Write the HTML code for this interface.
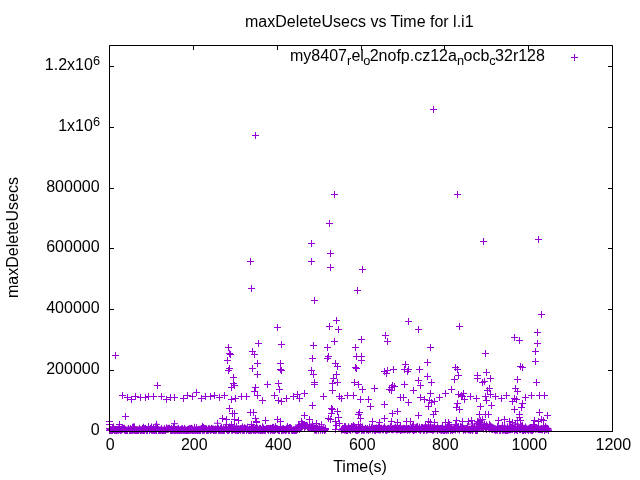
<!DOCTYPE html>
<html lang="en"><head><meta charset="utf-8"><title>maxDeleteUsecs vs Time for l.i1</title>
<style>html,body{margin:0;padding:0;background:#fff;overflow:hidden}svg{display:block;will-change:transform}text{font-family:"Liberation Sans",Arial,sans-serif;font-size:16px;fill:#000}</style></head><body>
<svg width="640" height="480" viewBox="0 0 640 480">
<rect width="640" height="480" fill="#fff"/>
<text x="359.3" y="26.6" text-anchor="middle">maxDeleteUsecs vs Time for l.i1</text>
<text transform="translate(18.2,237.5) rotate(-90)" text-anchor="middle">maxDeleteUsecs</text>
<text x="360" y="471.8" text-anchor="middle">Time(s)</text>
<text x="99.6" y="435.0" text-anchor="end">0</text>
<text x="99.6" y="374.0" text-anchor="end">200000</text>
<text x="99.6" y="313.0" text-anchor="end">400000</text>
<text x="99.6" y="252.0" text-anchor="end">600000</text>
<text x="99.6" y="192.0" text-anchor="end">800000</text>
<text x="100" y="130.8" text-anchor="end">1x10<tspan font-size="12.8" dy="-4.8">6</tspan></text>
<text x="100" y="70.0" text-anchor="end">1.2x10<tspan font-size="12.8" dy="-4.8">6</tspan></text>
<text x="110.3" y="450" text-anchor="middle">0</text>
<text x="194.3" y="450" text-anchor="middle">200</text>
<text x="278.3" y="450" text-anchor="middle">400</text>
<text x="362.3" y="450" text-anchor="middle">600</text>
<text x="445.3" y="450" text-anchor="middle">800</text>
<text x="529.3" y="450" text-anchor="middle">1000</text>
<text x="613.3" y="450" text-anchor="middle">1200</text>
<text y="60.8"><tspan x="290">my8407</tspan><tspan font-size="12.8" x="347" y="64.8">r</tspan><tspan x="351.4" y="60.8">el</tspan><tspan font-size="12.8" x="363.3" y="64.8">o</tspan><tspan x="369.7" y="60.8">2nofp.cz12a</tspan><tspan font-size="12.8" x="456.9" y="64.8">n</tspan><tspan x="463.5" y="60.8">ocb</tspan><tspan font-size="12.8" x="489.3" y="64.8">c</tspan><tspan x="495.1" y="60.8">32r128</tspan></text>
<path d="M109.5 431.50h4.5M612.5 431.50h-4.5M109.50 431.5v-4.5M109.50 45.5v4.5M109.5 370.50h4.5M612.5 370.50h-4.5M193.50 431.5v-4.5M193.50 45.5v4.5M109.5 309.50h4.5M612.5 309.50h-4.5M277.50 431.5v-4.5M277.50 45.5v4.5M109.5 248.50h4.5M612.5 248.50h-4.5M361.50 431.5v-4.5M361.50 45.5v4.5M109.5 188.50h4.5M612.5 188.50h-4.5M444.50 431.5v-4.5M444.50 45.5v4.5M109.5 127.50h4.5M612.5 127.50h-4.5M528.50 431.5v-4.5M528.50 45.5v4.5M109.5 66.50h4.5M612.5 66.50h-4.5M612.50 431.5v-4.5M612.50 45.5v4.5" stroke="#000" stroke-width="1" fill="none"/>
<path d="M106.00 430.40h7M109.50 426.90v7M106.00 430.16h7M109.50 426.66v7M107.00 429.57h7M110.50 426.07v7M107.00 430.30h7M110.50 426.80v7M108.00 430.32h7M111.50 426.82v7M108.00 430.42h7M111.50 426.92v7M109.00 430.20h7M112.50 426.70v7M109.00 430.38h7M112.50 426.88v7M109.00 428.40h7M112.50 424.90v7M110.00 429.51h7M113.50 426.01v7M110.00 426.81h7M113.50 423.31v7M111.00 429.72h7M114.50 426.22v7M111.00 430.41h7M114.50 426.91v7M111.00 430.21h7M114.50 426.71v7M112.00 430.28h7M115.50 426.78v7M112.00 429.56h7M115.50 426.06v7M113.00 430.17h7M116.50 426.67v7M113.00 430.39h7M116.50 426.89v7M114.00 429.44h7M117.50 425.94v7M114.00 430.27h7M117.50 426.77v7M114.00 429.70h7M117.50 426.20v7M115.00 428.90h7M118.50 425.40v7M115.00 430.28h7M118.50 426.78v7M116.00 428.55h7M119.50 425.05v7M116.00 429.72h7M119.50 426.22v7M116.00 426.53h7M119.50 423.03v7M117.00 430.22h7M120.50 426.72v7M117.00 430.30h7M120.50 426.80v7M118.00 430.25h7M121.50 426.75v7M118.00 429.15h7M121.50 425.65v7M119.00 428.15h7M122.50 424.65v7M119.00 429.11h7M122.50 425.61v7M119.00 429.39h7M122.50 425.89v7M120.00 428.41h7M123.50 424.91v7M120.00 428.97h7M123.50 425.47v7M121.00 430.24h7M124.50 426.74v7M121.00 428.31h7M124.50 424.81v7M122.00 429.73h7M125.50 426.23v7M122.00 430.25h7M125.50 426.75v7M122.00 430.31h7M125.50 426.81v7M123.00 430.41h7M126.50 426.91v7M123.00 430.22h7M126.50 426.72v7M124.00 430.38h7M127.50 426.88v7M124.00 430.19h7M127.50 426.69v7M124.00 430.32h7M127.50 426.82v7M125.00 428.53h7M128.50 425.03v7M125.00 428.57h7M128.50 425.07v7M126.00 430.33h7M129.50 426.83v7M126.00 430.18h7M129.50 426.68v7M127.00 428.54h7M130.50 425.04v7M127.00 430.38h7M130.50 426.88v7M127.00 430.30h7M130.50 426.80v7M128.00 429.77h7M131.50 426.27v7M128.00 430.32h7M131.50 426.82v7M129.00 430.28h7M132.50 426.78v7M129.00 427.24h7M132.50 423.74v7M129.00 429.06h7M132.50 425.56v7M130.00 430.19h7M133.50 426.69v7M130.00 427.03h7M133.50 423.53v7M131.00 426.99h7M134.50 423.49v7M131.00 430.33h7M134.50 426.83v7M132.00 430.26h7M135.50 426.76v7M132.00 430.43h7M135.50 426.93v7M132.00 430.40h7M135.50 426.90v7M133.00 430.43h7M136.50 426.93v7M133.00 430.40h7M136.50 426.90v7M134.00 430.34h7M137.50 426.84v7M134.00 430.19h7M137.50 426.69v7M135.00 430.00h7M138.50 426.50v7M135.00 430.35h7M138.50 426.85v7M135.00 430.41h7M138.50 426.91v7M136.00 428.31h7M139.50 424.81v7M136.00 429.33h7M139.50 425.83v7M137.00 430.42h7M140.50 426.92v7M137.00 430.37h7M140.50 426.87v7M137.00 429.98h7M140.50 426.48v7M138.00 430.16h7M141.50 426.66v7M138.00 430.01h7M141.50 426.51v7M139.00 430.25h7M142.50 426.75v7M139.00 428.34h7M142.50 424.84v7M140.00 427.23h7M143.50 423.73v7M140.00 430.34h7M143.50 426.84v7M140.00 430.22h7M143.50 426.72v7M141.00 428.74h7M144.50 425.24v7M141.00 430.38h7M144.50 426.88v7M142.00 428.33h7M145.50 424.83v7M142.00 428.69h7M145.50 425.19v7M142.00 428.82h7M145.50 425.32v7M143.00 430.29h7M146.50 426.79v7M143.00 430.44h7M146.50 426.94v7M144.00 430.37h7M147.50 426.87v7M144.00 430.24h7M147.50 426.74v7M145.00 427.83h7M148.50 424.33v7M145.00 426.53h7M148.50 423.03v7M145.00 428.02h7M148.50 424.52v7M146.00 430.38h7M149.50 426.88v7M146.00 430.39h7M149.50 426.89v7M147.00 428.50h7M150.50 425.00v7M147.00 429.34h7M150.50 425.84v7M148.00 428.70h7M151.50 425.20v7M148.00 430.25h7M151.50 426.75v7M148.00 427.02h7M151.50 423.52v7M149.00 429.34h7M152.50 425.84v7M149.00 430.21h7M152.50 426.71v7M150.00 430.21h7M153.50 426.71v7M150.00 427.95h7M153.50 424.45v7M150.00 430.17h7M153.50 426.67v7M151.00 429.96h7M154.50 426.46v7M151.00 430.40h7M154.50 426.90v7M152.00 426.96h7M155.50 423.46v7M152.00 430.20h7M155.50 426.70v7M153.00 424.37h7M156.50 420.87v7M153.00 430.29h7M156.50 426.79v7M153.00 430.45h7M156.50 426.95v7M154.00 427.34h7M157.50 423.84v7M154.00 428.43h7M157.50 424.93v7M155.00 430.19h7M158.50 426.69v7M155.00 429.88h7M158.50 426.38v7M155.00 430.36h7M158.50 426.86v7M156.00 430.27h7M159.50 426.77v7M156.00 430.32h7M159.50 426.82v7M157.00 430.18h7M160.50 426.68v7M157.00 430.31h7M160.50 426.81v7M158.00 428.49h7M161.50 424.99v7M158.00 430.17h7M161.50 426.67v7M158.00 429.24h7M161.50 425.74v7M159.00 430.26h7M162.50 426.76v7M159.00 430.40h7M162.50 426.90v7M160.00 430.21h7M163.50 426.71v7M160.00 430.31h7M163.50 426.81v7M161.00 429.19h7M164.50 425.69v7M161.00 430.29h7M164.50 426.79v7M161.00 428.73h7M164.50 425.23v7M162.00 430.28h7M165.50 426.78v7M162.00 430.37h7M165.50 426.87v7M163.00 429.28h7M166.50 425.78v7M163.00 428.78h7M166.50 425.28v7M163.00 427.84h7M166.50 424.34v7M164.00 429.29h7M167.50 425.79v7M164.00 428.91h7M167.50 425.41v7M165.00 429.23h7M168.50 425.73v7M165.00 428.42h7M168.50 424.92v7M166.00 428.55h7M169.50 425.05v7M166.00 428.28h7M169.50 424.78v7M166.00 428.41h7M169.50 424.91v7M167.00 430.03h7M170.50 426.53v7M167.00 430.32h7M170.50 426.82v7M168.00 430.38h7M171.50 426.88v7M168.00 430.25h7M171.50 426.75v7M168.00 428.51h7M171.50 425.01v7M169.00 430.24h7M172.50 426.74v7M169.00 430.01h7M172.50 426.51v7M170.00 426.58h7M173.50 423.08v7M170.00 430.16h7M173.50 426.66v7M171.00 430.30h7M174.50 426.80v7M171.00 423.67h7M174.50 420.17v7M171.00 430.32h7M174.50 426.82v7M172.00 429.62h7M175.50 426.12v7M172.00 430.35h7M175.50 426.85v7M173.00 430.26h7M176.50 426.76v7M173.00 429.42h7M176.50 425.92v7M174.00 430.35h7M177.50 426.85v7M174.00 429.28h7M177.50 425.78v7M174.00 430.15h7M177.50 426.65v7M175.00 428.36h7M178.50 424.86v7M175.00 430.37h7M178.50 426.87v7M176.00 430.22h7M179.50 426.72v7M176.00 430.41h7M179.50 426.91v7M176.00 430.18h7M179.50 426.68v7M177.00 429.78h7M180.50 426.28v7M177.00 430.17h7M180.50 426.67v7M178.00 428.90h7M181.50 425.40v7M178.00 430.43h7M181.50 426.93v7M179.00 429.45h7M182.50 425.95v7M179.00 430.17h7M182.50 426.67v7M179.00 428.70h7M182.50 425.20v7M180.00 430.19h7M183.50 426.69v7M180.00 430.19h7M183.50 426.69v7M181.00 429.62h7M184.50 426.12v7M181.00 428.45h7M184.50 424.95v7M181.00 430.41h7M184.50 426.91v7M182.00 429.82h7M185.50 426.32v7M182.00 430.40h7M185.50 426.90v7M183.00 430.39h7M186.50 426.89v7M183.00 430.36h7M186.50 426.86v7M184.00 429.72h7M187.50 426.22v7M184.00 429.94h7M187.50 426.44v7M184.00 430.44h7M187.50 426.94v7M185.00 430.45h7M188.50 426.95v7M185.00 429.20h7M188.50 425.70v7M186.00 430.31h7M189.50 426.81v7M186.00 428.64h7M189.50 425.14v7M187.00 429.44h7M190.50 425.94v7M187.00 428.63h7M190.50 425.13v7M187.00 430.30h7M190.50 426.80v7M188.00 428.34h7M191.50 424.84v7M188.00 430.20h7M191.50 426.70v7M189.00 429.03h7M192.50 425.53v7M189.00 430.35h7M192.50 426.85v7M189.00 430.41h7M192.50 426.91v7M190.00 430.23h7M193.50 426.73v7M190.00 430.40h7M193.50 426.90v7M191.00 430.20h7M194.50 426.70v7M191.00 427.29h7M194.50 423.79v7M192.00 430.38h7M195.50 426.88v7M192.00 430.31h7M195.50 426.81v7M192.00 430.32h7M195.50 426.82v7M193.00 430.16h7M196.50 426.66v7M193.00 427.59h7M196.50 424.09v7M194.00 430.16h7M197.50 426.66v7M194.00 430.34h7M197.50 426.84v7M194.00 430.34h7M197.50 426.84v7M195.00 429.29h7M198.50 425.79v7M195.00 430.30h7M198.50 426.80v7M196.00 430.37h7M199.50 426.87v7M196.00 430.33h7M199.50 426.83v7M197.00 430.44h7M200.50 426.94v7M197.00 430.38h7M200.50 426.88v7M197.00 429.24h7M200.50 425.74v7M198.00 428.98h7M201.50 425.48v7M198.00 428.54h7M201.50 425.04v7M199.00 430.35h7M202.50 426.85v7M199.00 426.40h7M202.50 422.90v7M200.00 429.01h7M203.50 425.51v7M200.00 430.20h7M203.50 426.70v7M200.00 427.39h7M203.50 423.89v7M201.00 428.68h7M204.50 425.18v7M201.00 430.29h7M204.50 426.79v7M202.00 428.63h7M205.50 425.13v7M202.00 428.65h7M205.50 425.15v7M202.00 428.51h7M205.50 425.01v7M203.00 428.91h7M206.50 425.41v7M203.00 430.44h7M206.50 426.94v7M204.00 430.34h7M207.50 426.84v7M204.00 430.20h7M207.50 426.70v7M205.00 429.04h7M208.50 425.54v7M205.00 428.94h7M208.50 425.44v7M205.00 430.29h7M208.50 426.79v7M206.00 428.80h7M209.50 425.30v7M206.00 429.23h7M209.50 425.73v7M207.00 430.17h7M210.50 426.67v7M207.00 429.80h7M210.50 426.30v7M207.00 430.37h7M210.50 426.87v7M208.00 429.89h7M211.50 426.39v7M208.00 428.35h7M211.50 424.85v7M209.00 429.53h7M212.50 426.03v7M209.00 428.93h7M212.50 425.43v7M210.00 429.07h7M213.50 425.57v7M210.00 430.15h7M213.50 426.65v7M210.00 430.37h7M213.50 426.87v7M211.00 429.69h7M214.50 426.19v7M211.00 430.28h7M214.50 426.78v7M212.00 430.37h7M215.50 426.87v7M212.00 428.92h7M215.50 425.42v7M213.00 429.72h7M216.50 426.22v7M213.00 429.37h7M216.50 425.87v7M213.00 430.06h7M216.50 426.56v7M214.00 428.42h7M217.50 424.92v7M214.00 423.25h7M217.50 419.75v7M215.00 430.31h7M218.50 426.81v7M215.00 428.36h7M218.50 424.86v7M215.00 429.76h7M218.50 426.26v7M216.00 430.17h7M219.50 426.67v7M216.00 430.28h7M219.50 426.78v7M217.00 430.29h7M220.50 426.79v7M217.00 428.58h7M220.50 425.08v7M218.00 429.28h7M221.50 425.78v7M218.00 427.21h7M221.50 423.71v7M218.00 430.18h7M221.50 426.68v7M219.00 430.25h7M222.50 426.75v7M219.00 430.30h7M222.50 426.80v7M220.00 429.70h7M223.50 426.20v7M220.00 430.35h7M223.50 426.85v7M220.00 428.62h7M223.50 425.12v7M221.00 430.22h7M224.50 426.72v7M221.00 430.06h7M224.50 426.56v7M222.00 427.19h7M225.50 423.69v7M222.00 428.20h7M225.50 424.70v7M223.00 429.51h7M226.50 426.01v7M223.00 424.64h7M226.50 421.14v7M223.00 429.44h7M226.50 425.94v7M224.00 430.44h7M227.50 426.94v7M224.00 430.20h7M227.50 426.70v7M225.00 428.43h7M228.50 424.93v7M225.00 430.37h7M228.50 426.87v7M226.00 429.92h7M229.50 426.42v7M226.00 428.39h7M229.50 424.89v7M226.00 426.95h7M229.50 423.45v7M227.00 428.47h7M230.50 424.97v7M227.00 427.58h7M230.50 424.08v7M228.00 430.20h7M231.50 426.70v7M228.00 429.40h7M231.50 425.90v7M228.00 429.01h7M231.50 425.51v7M229.00 430.20h7M232.50 426.70v7M229.00 428.59h7M232.50 425.09v7M230.00 429.61h7M233.50 426.11v7M230.00 428.82h7M233.50 425.32v7M231.00 425.96h7M234.50 422.46v7M231.00 429.70h7M234.50 426.20v7M231.00 429.51h7M234.50 426.01v7M232.00 430.40h7M235.50 426.90v7M232.00 430.18h7M235.50 426.68v7M233.00 429.86h7M236.50 426.36v7M233.00 426.51h7M236.50 423.01v7M233.00 430.02h7M236.50 426.52v7M234.00 430.42h7M237.50 426.92v7M234.00 430.12h7M237.50 426.62v7M235.00 430.37h7M238.50 426.87v7M235.00 428.53h7M238.50 425.03v7M236.00 429.47h7M239.50 425.97v7M236.00 429.25h7M239.50 425.75v7M236.00 429.62h7M239.50 426.12v7M237.00 430.37h7M240.50 426.87v7M237.00 428.60h7M240.50 425.10v7M238.00 429.04h7M241.50 425.54v7M238.00 428.38h7M241.50 424.88v7M239.00 430.38h7M242.50 426.88v7M239.00 429.41h7M242.50 425.91v7M239.00 426.86h7M242.50 423.36v7M240.00 428.85h7M243.50 425.35v7M240.00 430.24h7M243.50 426.74v7M241.00 427.76h7M244.50 424.26v7M241.00 430.30h7M244.50 426.80v7M241.00 428.45h7M244.50 424.95v7M242.00 428.59h7M245.50 425.09v7M242.00 428.30h7M245.50 424.80v7M243.00 430.40h7M246.50 426.90v7M243.00 428.94h7M246.50 425.44v7M244.00 427.17h7M247.50 423.67v7M244.00 428.77h7M247.50 425.27v7M244.00 429.20h7M247.50 425.70v7M245.00 430.22h7M248.50 426.72v7M245.00 430.17h7M248.50 426.67v7M246.00 429.69h7M249.50 426.19v7M246.00 430.37h7M249.50 426.87v7M246.00 428.90h7M249.50 425.40v7M247.00 430.43h7M250.50 426.93v7M247.00 429.13h7M250.50 425.63v7M248.00 429.85h7M251.50 426.35v7M248.00 430.28h7M251.50 426.78v7M249.00 429.38h7M252.50 425.88v7M249.00 427.35h7M252.50 423.85v7M249.00 427.76h7M252.50 424.26v7M250.00 430.38h7M253.50 426.88v7M250.00 427.21h7M253.50 423.71v7M251.00 430.26h7M254.50 426.76v7M251.00 428.95h7M254.50 425.45v7M252.00 429.79h7M255.50 426.29v7M252.00 428.45h7M255.50 424.95v7M252.00 430.44h7M255.50 426.94v7M253.00 429.46h7M256.50 425.96v7M253.00 429.90h7M256.50 426.40v7M254.00 428.82h7M257.50 425.32v7M254.00 429.89h7M257.50 426.39v7M254.00 428.15h7M257.50 424.65v7M255.00 429.84h7M258.50 426.34v7M255.00 430.22h7M258.50 426.72v7M256.00 428.40h7M259.50 424.90v7M256.00 429.93h7M259.50 426.43v7M257.00 430.32h7M260.50 426.82v7M257.00 428.40h7M260.50 424.90v7M257.00 430.33h7M260.50 426.83v7M258.00 430.16h7M261.50 426.66v7M258.00 430.43h7M261.50 426.93v7M259.00 430.33h7M262.50 426.83v7M259.00 426.78h7M262.50 423.28v7M259.00 428.30h7M262.50 424.80v7M260.00 428.11h7M263.50 424.61v7M260.00 430.17h7M263.50 426.67v7M261.00 430.24h7M264.50 426.74v7M261.00 429.54h7M264.50 426.04v7M262.00 429.64h7M265.50 426.14v7M262.00 430.45h7M265.50 426.95v7M262.00 430.34h7M265.50 426.84v7M263.00 428.60h7M266.50 425.10v7M263.00 428.40h7M266.50 424.90v7M264.00 428.66h7M267.50 425.16v7M264.00 429.44h7M267.50 425.94v7M265.00 430.31h7M268.50 426.81v7M265.00 428.46h7M268.50 424.96v7M265.00 430.34h7M268.50 426.84v7M266.00 428.83h7M269.50 425.33v7M266.00 428.68h7M269.50 425.18v7M267.00 430.22h7M270.50 426.72v7M267.00 430.43h7M270.50 426.93v7M267.00 428.28h7M270.50 424.78v7M268.00 428.50h7M271.50 425.00v7M268.00 429.76h7M271.50 426.26v7M269.00 427.42h7M272.50 423.92v7M269.00 430.24h7M272.50 426.74v7M270.00 429.75h7M273.50 426.25v7M270.00 430.22h7M273.50 426.72v7M270.00 427.38h7M273.50 423.88v7M271.00 428.84h7M274.50 425.34v7M271.00 430.31h7M274.50 426.81v7M272.00 426.61h7M275.50 423.11v7M272.00 429.80h7M275.50 426.30v7M272.00 429.31h7M275.50 425.81v7M273.00 428.46h7M276.50 424.96v7M273.00 428.82h7M276.50 425.32v7M274.00 428.75h7M277.50 425.25v7M274.00 429.64h7M277.50 426.14v7M275.00 429.58h7M278.50 426.08v7M275.00 430.14h7M278.50 426.64v7M275.00 430.22h7M278.50 426.72v7M276.00 430.43h7M279.50 426.93v7M276.00 430.28h7M279.50 426.78v7M277.00 428.34h7M280.50 424.84v7M277.00 426.53h7M280.50 423.03v7M278.00 430.42h7M281.50 426.92v7M278.00 430.30h7M281.50 426.80v7M278.00 429.41h7M281.50 425.91v7M279.00 430.32h7M282.50 426.82v7M279.00 428.95h7M282.50 425.45v7M280.00 428.61h7M283.50 425.11v7M280.00 430.06h7M283.50 426.56v7M280.00 429.71h7M283.50 426.21v7M281.00 429.55h7M284.50 426.05v7M281.00 429.90h7M284.50 426.40v7M282.00 430.38h7M285.50 426.88v7M282.00 430.18h7M285.50 426.68v7M283.00 429.65h7M286.50 426.15v7M283.00 428.32h7M286.50 424.82v7M283.00 429.84h7M286.50 426.34v7M284.00 428.99h7M287.50 425.49v7M284.00 426.59h7M287.50 423.09v7M285.00 428.66h7M288.50 425.16v7M285.00 428.47h7M288.50 424.97v7M285.00 430.36h7M288.50 426.86v7M286.00 430.39h7M289.50 426.89v7M286.00 427.50h7M289.50 424.00v7M287.00 428.01h7M290.50 424.51v7M287.00 427.82h7M290.50 424.32v7M288.00 430.22h7M291.50 426.72v7M288.00 428.65h7M291.50 425.15v7M288.00 429.06h7M291.50 425.56v7M289.00 430.34h7M292.50 426.84v7M289.00 430.39h7M292.50 426.89v7M290.00 430.27h7M293.50 426.77v7M290.00 429.89h7M293.50 426.39v7M291.00 430.35h7M294.50 426.85v7M291.00 429.93h7M294.50 426.43v7M291.00 429.89h7M294.50 426.39v7M292.00 429.20h7M295.50 425.70v7M292.00 430.42h7M295.50 426.92v7M293.00 429.20h7M296.50 425.70v7M293.00 430.12h7M296.50 426.62v7M293.00 430.24h7M296.50 426.74v7M294.00 429.55h7M297.50 426.05v7M294.00 427.61h7M297.50 424.11v7M295.00 428.36h7M298.50 424.86v7M295.00 424.93h7M298.50 421.43v7M296.00 429.44h7M299.50 425.94v7M296.00 425.79h7M299.50 422.29v7M296.00 426.91h7M299.50 423.41v7M297.00 428.21h7M300.50 424.71v7M297.00 427.47h7M300.50 423.97v7M298.00 427.22h7M301.50 423.72v7M298.00 427.16h7M301.50 423.66v7M298.00 426.00h7M301.50 422.50v7M299.00 426.64h7M302.50 423.14v7M299.00 423.66h7M302.50 420.16v7M300.00 425.45h7M303.50 421.95v7M300.00 424.84h7M303.50 421.34v7M301.00 425.55h7M304.50 422.05v7M301.00 424.73h7M304.50 421.23v7M301.00 427.81h7M304.50 424.31v7M302.00 426.42h7M305.50 422.92v7M302.00 425.49h7M305.50 421.99v7M303.00 425.21h7M306.50 421.71v7M303.00 425.52h7M306.50 422.02v7M304.00 426.85h7M307.50 423.35v7M304.00 426.87h7M307.50 423.37v7M304.00 425.80h7M307.50 422.30v7M305.00 428.29h7M308.50 424.79v7M305.00 427.49h7M308.50 423.99v7M306.00 426.26h7M309.50 422.76v7M306.00 428.14h7M309.50 424.64v7M306.00 428.36h7M309.50 424.86v7M307.00 428.43h7M310.50 424.93v7M307.00 427.71h7M310.50 424.21v7M308.00 428.57h7M311.50 425.07v7M308.00 427.31h7M311.50 423.81v7M309.00 426.67h7M312.50 423.17v7M309.00 428.11h7M312.50 424.61v7M309.00 423.96h7M312.50 420.46v7M310.00 427.93h7M313.50 424.43v7M310.00 428.61h7M313.50 425.11v7M311.00 429.98h7M314.50 426.48v7M311.00 428.24h7M314.50 424.74v7M312.00 430.01h7M315.50 426.51v7M312.00 428.46h7M315.50 424.96v7M312.00 429.77h7M315.50 426.27v7M313.00 429.66h7M316.50 426.16v7M313.00 430.40h7M316.50 426.90v7M314.00 428.43h7M317.50 424.93v7M314.00 428.51h7M317.50 425.01v7M314.00 428.73h7M317.50 425.23v7M315.00 430.29h7M318.50 426.79v7M315.00 429.58h7M318.50 426.08v7M316.00 427.57h7M319.50 424.07v7M316.00 428.53h7M319.50 425.03v7M317.00 430.15h7M320.50 426.65v7M317.00 429.51h7M320.50 426.01v7M317.00 429.77h7M320.50 426.27v7M318.00 424.69h7M321.50 421.19v7M318.00 428.77h7M321.50 425.27v7M319.00 429.95h7M322.50 426.45v7M319.00 430.20h7M322.50 426.70v7M319.00 429.79h7M322.50 426.29v7M320.00 428.33h7M323.50 424.83v7M320.00 428.97h7M323.50 425.47v7M321.00 430.30h7M324.50 426.80v7M321.00 430.41h7M324.50 426.91v7M322.00 429.44h7M325.50 425.94v7M322.00 428.51h7M325.50 425.01v7M322.00 429.85h7M325.50 426.35v7M338.00 430.08h7M341.50 426.58v7M339.00 428.31h7M342.50 424.81v7M339.00 429.72h7M342.50 426.22v7M340.00 429.14h7M343.50 425.64v7M340.00 428.55h7M343.50 425.05v7M340.00 429.51h7M343.50 426.01v7M341.00 430.01h7M344.50 426.51v7M341.00 426.56h7M344.50 423.06v7M342.00 430.09h7M345.50 426.59v7M342.00 426.66h7M345.50 423.16v7M343.00 428.69h7M346.50 425.19v7M343.00 429.67h7M346.50 426.17v7M343.00 430.44h7M346.50 426.94v7M344.00 430.42h7M347.50 426.92v7M344.00 428.78h7M347.50 425.28v7M345.00 426.75h7M348.50 423.25v7M345.00 429.05h7M348.50 425.55v7M345.00 428.60h7M348.50 425.10v7M346.00 429.60h7M349.50 426.10v7M346.00 428.27h7M349.50 424.77v7M347.00 428.43h7M350.50 424.93v7M347.00 430.43h7M350.50 426.93v7M348.00 428.69h7M351.50 425.19v7M348.00 426.66h7M351.50 423.16v7M348.00 428.43h7M351.50 424.93v7M349.00 429.65h7M352.50 426.15v7M349.00 426.96h7M352.50 423.46v7M350.00 428.84h7M353.50 425.34v7M350.00 425.46h7M353.50 421.96v7M351.00 426.79h7M354.50 423.29v7M351.00 427.46h7M354.50 423.96v7M351.00 429.02h7M354.50 425.52v7M352.00 429.70h7M355.50 426.20v7M352.00 429.95h7M355.50 426.45v7M353.00 428.22h7M356.50 424.72v7M353.00 430.47h7M356.50 426.97v7M353.00 427.70h7M356.50 424.20v7M354.00 430.05h7M357.50 426.55v7M354.00 430.33h7M357.50 426.83v7M355.00 428.78h7M358.50 425.28v7M355.00 429.98h7M358.50 426.48v7M356.00 429.41h7M359.50 425.91v7M356.00 428.54h7M359.50 425.04v7M356.00 428.43h7M359.50 424.93v7M357.00 426.22h7M360.50 422.72v7M357.00 428.32h7M360.50 424.82v7M358.00 429.89h7M361.50 426.39v7M358.00 430.29h7M361.50 426.79v7M358.00 428.90h7M361.50 425.40v7M359.00 426.96h7M362.50 423.46v7M359.00 429.91h7M362.50 426.41v7M360.00 430.31h7M363.50 426.81v7M360.00 429.49h7M363.50 425.99v7M361.00 430.06h7M364.50 426.56v7M361.00 429.56h7M364.50 426.06v7M361.00 429.40h7M364.50 425.90v7M362.00 428.27h7M365.50 424.77v7M362.00 428.48h7M365.50 424.98v7M363.00 430.04h7M366.50 426.54v7M363.00 429.27h7M366.50 425.77v7M364.00 429.44h7M367.50 425.94v7M364.00 429.08h7M367.50 425.58v7M364.00 428.46h7M367.50 424.96v7M365.00 430.30h7M368.50 426.80v7M365.00 430.10h7M368.50 426.60v7M366.00 428.65h7M369.50 425.15v7M366.00 427.08h7M369.50 423.58v7M366.00 429.17h7M369.50 425.67v7M367.00 429.75h7M370.50 426.25v7M367.00 429.44h7M370.50 425.94v7M368.00 427.92h7M371.50 424.42v7M368.00 427.86h7M371.50 424.36v7M369.00 428.77h7M372.50 425.27v7M369.00 429.89h7M372.50 426.39v7M369.00 429.95h7M372.50 426.45v7M370.00 428.78h7M373.50 425.28v7M370.00 428.91h7M373.50 425.41v7M371.00 429.34h7M374.50 425.84v7M371.00 428.41h7M374.50 424.91v7M371.00 430.28h7M374.50 426.78v7M372.00 430.45h7M375.50 426.95v7M372.00 428.39h7M375.50 424.89v7M373.00 429.38h7M376.50 425.88v7M373.00 427.99h7M376.50 424.49v7M374.00 429.09h7M377.50 425.59v7M374.00 428.67h7M377.50 425.17v7M374.00 429.44h7M377.50 425.94v7M375.00 429.80h7M378.50 426.30v7M375.00 426.88h7M378.50 423.38v7M376.00 429.78h7M379.50 426.28v7M376.00 428.63h7M379.50 425.13v7M377.00 429.86h7M380.50 426.36v7M377.00 428.42h7M380.50 424.92v7M377.00 429.74h7M380.50 426.24v7M378.00 428.76h7M381.50 425.26v7M378.00 428.20h7M381.50 424.70v7M379.00 429.63h7M382.50 426.13v7M379.00 429.11h7M382.50 425.61v7M379.00 429.48h7M382.50 425.98v7M380.00 428.25h7M383.50 424.75v7M380.00 429.91h7M383.50 426.41v7M381.00 426.74h7M384.50 423.24v7M381.00 428.23h7M384.50 424.73v7M382.00 428.71h7M385.50 425.21v7M382.00 429.73h7M385.50 426.23v7M382.00 429.90h7M385.50 426.40v7M383.00 429.36h7M386.50 425.86v7M383.00 430.40h7M386.50 426.90v7M384.00 428.78h7M387.50 425.28v7M384.00 428.90h7M387.50 425.40v7M384.00 429.83h7M387.50 426.33v7M385.00 429.33h7M388.50 425.83v7M385.00 428.37h7M388.50 424.87v7M386.00 429.01h7M389.50 425.51v7M386.00 429.30h7M389.50 425.80v7M387.00 428.73h7M390.50 425.23v7M387.00 426.59h7M390.50 423.09v7M387.00 428.48h7M390.50 424.98v7M388.00 428.88h7M391.50 425.38v7M388.00 429.51h7M391.50 426.01v7M389.00 429.91h7M392.50 426.41v7M389.00 428.61h7M392.50 425.11v7M390.00 428.90h7M393.50 425.40v7M390.00 429.30h7M393.50 425.80v7M390.00 428.92h7M393.50 425.42v7M391.00 428.82h7M394.50 425.32v7M391.00 428.12h7M394.50 424.62v7M392.00 428.62h7M395.50 425.12v7M392.00 429.17h7M395.50 425.67v7M392.00 426.97h7M395.50 423.47v7M393.00 429.79h7M396.50 426.29v7M393.00 428.31h7M396.50 424.81v7M394.00 429.91h7M397.50 426.41v7M394.00 429.07h7M397.50 425.57v7M395.00 429.13h7M398.50 425.63v7M395.00 428.52h7M398.50 425.02v7M395.00 429.32h7M398.50 425.82v7M396.00 428.05h7M399.50 424.55v7M396.00 429.35h7M399.50 425.85v7M397.00 429.87h7M400.50 426.37v7M397.00 425.86h7M400.50 422.36v7M397.00 430.43h7M400.50 426.93v7M398.00 430.07h7M401.50 426.57v7M398.00 429.30h7M401.50 425.80v7M399.00 429.43h7M402.50 425.93v7M399.00 429.67h7M402.50 426.17v7M400.00 428.31h7M403.50 424.81v7M400.00 429.68h7M403.50 426.18v7M400.00 429.36h7M403.50 425.86v7M401.00 429.85h7M404.50 426.35v7M401.00 428.56h7M404.50 425.06v7M402.00 429.21h7M405.50 425.71v7M402.00 429.67h7M405.50 426.17v7M403.00 425.86h7M406.50 422.36v7M403.00 428.54h7M406.50 425.04v7M403.00 429.21h7M406.50 425.71v7M404.00 429.06h7M407.50 425.56v7M404.00 430.29h7M407.50 426.79v7M405.00 428.48h7M408.50 424.98v7M405.00 429.39h7M408.50 425.89v7M405.00 429.29h7M408.50 425.79v7M406.00 430.09h7M409.50 426.59v7M406.00 429.57h7M409.50 426.07v7M407.00 429.53h7M410.50 426.03v7M407.00 429.29h7M410.50 425.79v7M408.00 428.85h7M411.50 425.35v7M408.00 428.34h7M411.50 424.84v7M408.00 428.45h7M411.50 424.95v7M409.00 426.24h7M412.50 422.74v7M409.00 429.83h7M412.50 426.33v7M410.00 426.95h7M413.50 423.45v7M410.00 430.50h7M413.50 427.00v7M410.00 424.80h7M413.50 421.30v7M411.00 429.91h7M414.50 426.41v7M411.00 429.66h7M414.50 426.16v7M412.00 429.44h7M415.50 425.94v7M412.00 428.38h7M415.50 424.88v7M413.00 429.78h7M416.50 426.28v7M413.00 427.02h7M416.50 423.52v7M413.00 428.83h7M416.50 425.33v7M414.00 426.55h7M417.50 423.05v7M414.00 428.09h7M417.50 424.59v7M415.00 429.09h7M418.50 425.59v7M415.00 429.27h7M418.50 425.77v7M416.00 427.16h7M419.50 423.66v7M416.00 429.66h7M419.50 426.16v7M416.00 429.16h7M419.50 425.66v7M417.00 430.38h7M420.50 426.88v7M417.00 429.17h7M420.50 425.67v7M418.00 429.07h7M421.50 425.57v7M418.00 428.58h7M421.50 425.08v7M418.00 427.38h7M421.50 423.88v7M419.00 428.84h7M422.50 425.34v7M419.00 427.63h7M422.50 424.13v7M420.00 428.27h7M423.50 424.77v7M420.00 430.34h7M423.50 426.84v7M421.00 430.05h7M424.50 426.55v7M421.00 428.80h7M424.50 425.30v7M421.00 427.74h7M424.50 424.24v7M422.00 425.31h7M425.50 421.81v7M422.00 428.39h7M425.50 424.89v7M423.00 430.32h7M426.50 426.82v7M423.00 429.46h7M426.50 425.96v7M423.00 427.65h7M426.50 424.15v7M424.00 429.10h7M427.50 425.60v7M424.00 429.70h7M427.50 426.20v7M425.00 429.30h7M428.50 425.80v7M425.00 428.53h7M428.50 425.03v7M426.00 428.53h7M429.50 425.03v7M426.00 429.14h7M429.50 425.64v7M426.00 429.14h7M429.50 425.64v7M427.00 424.81h7M430.50 421.31v7M427.00 429.47h7M430.50 425.97v7M428.00 429.53h7M431.50 426.03v7M428.00 428.89h7M431.50 425.39v7M429.00 430.02h7M432.50 426.52v7M429.00 428.42h7M432.50 424.92v7M429.00 430.01h7M432.50 426.51v7M430.00 430.09h7M433.50 426.59v7M430.00 428.35h7M433.50 424.85v7M431.00 428.85h7M434.50 425.35v7M431.00 428.37h7M434.50 424.87v7M431.00 428.93h7M434.50 425.43v7M432.00 428.78h7M435.50 425.28v7M432.00 428.81h7M435.50 425.31v7M433.00 428.83h7M436.50 425.33v7M433.00 428.65h7M436.50 425.15v7M434.00 430.45h7M437.50 426.95v7M434.00 430.31h7M437.50 426.81v7M434.00 426.90h7M437.50 423.40v7M435.00 428.54h7M438.50 425.04v7M435.00 429.03h7M438.50 425.53v7M436.00 429.53h7M439.50 426.03v7M436.00 429.49h7M439.50 425.99v7M436.00 428.88h7M439.50 425.38v7M437.00 428.46h7M440.50 424.96v7M437.00 430.03h7M440.50 426.53v7M438.00 430.30h7M441.50 426.80v7M438.00 428.35h7M441.50 424.85v7M439.00 430.07h7M442.50 426.57v7M439.00 428.98h7M442.50 425.48v7M439.00 426.05h7M442.50 422.55v7M440.00 429.32h7M443.50 425.82v7M440.00 430.34h7M443.50 426.84v7M441.00 429.81h7M444.50 426.31v7M441.00 430.50h7M444.50 427.00v7M442.00 429.87h7M445.50 426.37v7M442.00 426.79h7M445.50 423.29v7M442.00 428.26h7M445.50 424.76v7M443.00 430.32h7M446.50 426.82v7M443.00 428.71h7M446.50 425.21v7M444.00 430.00h7M447.50 426.50v7M444.00 428.74h7M447.50 425.24v7M444.00 426.70h7M447.50 423.20v7M445.00 430.34h7M448.50 426.84v7M445.00 429.22h7M448.50 425.72v7M446.00 427.94h7M449.50 424.44v7M446.00 424.59h7M449.50 421.09v7M447.00 430.50h7M450.50 427.00v7M447.00 428.55h7M450.50 425.05v7M447.00 430.42h7M450.50 426.92v7M448.00 429.78h7M451.50 426.28v7M448.00 427.34h7M451.50 423.84v7M449.00 430.41h7M452.50 426.91v7M449.00 429.27h7M452.50 425.77v7M449.00 429.82h7M452.50 426.32v7M450.00 429.41h7M453.50 425.91v7M450.00 428.90h7M453.50 425.40v7M451.00 429.37h7M454.50 425.87v7M451.00 428.30h7M454.50 424.80v7M452.00 429.02h7M455.50 425.52v7M452.00 429.98h7M455.50 426.48v7M452.00 424.64h7M455.50 421.14v7M453.00 427.74h7M456.50 424.24v7M453.00 428.24h7M456.50 424.74v7M454.00 427.04h7M457.50 423.54v7M454.00 429.29h7M457.50 425.79v7M455.00 427.62h7M458.50 424.12v7M455.00 428.96h7M458.50 425.46v7M455.00 426.50h7M458.50 423.00v7M456.00 430.10h7M459.50 426.60v7M456.00 429.30h7M459.50 425.80v7M457.00 428.55h7M460.50 425.05v7M457.00 428.49h7M460.50 424.99v7M457.00 426.49h7M460.50 422.99v7M458.00 427.11h7M461.50 423.61v7M458.00 428.48h7M461.50 424.98v7M459.00 428.80h7M462.50 425.30v7M459.00 427.70h7M462.50 424.20v7M460.00 430.36h7M463.50 426.86v7M460.00 429.72h7M463.50 426.22v7M460.00 428.33h7M463.50 424.83v7M461.00 428.95h7M464.50 425.45v7M461.00 429.22h7M464.50 425.72v7M462.00 429.62h7M465.50 426.12v7M462.00 428.60h7M465.50 425.10v7M462.00 429.93h7M465.50 426.43v7M463.00 428.63h7M466.50 425.13v7M463.00 429.00h7M466.50 425.50v7M464.00 426.30h7M467.50 422.80v7M464.00 429.19h7M467.50 425.69v7M465.00 429.74h7M468.50 426.24v7M465.00 429.76h7M468.50 426.26v7M465.00 429.41h7M468.50 425.91v7M466.00 429.34h7M469.50 425.84v7M466.00 429.82h7M469.50 426.32v7M467.00 430.25h7M470.50 426.75v7M467.00 429.90h7M470.50 426.40v7M468.00 428.60h7M471.50 425.10v7M468.00 428.97h7M471.50 425.47v7M468.00 429.11h7M471.50 425.61v7M469.00 430.49h7M472.50 426.99v7M469.00 424.07h7M472.50 420.57v7M470.00 429.02h7M473.50 425.52v7M470.00 428.62h7M473.50 425.12v7M470.00 428.30h7M473.50 424.80v7M471.00 428.54h7M474.50 425.04v7M471.00 426.21h7M474.50 422.71v7M472.00 430.45h7M475.50 426.95v7M472.00 429.94h7M475.50 426.44v7M473.00 430.36h7M476.50 426.86v7M473.00 427.41h7M476.50 423.91v7M473.00 426.23h7M476.50 422.73v7M474.00 430.35h7M477.50 426.85v7M474.00 429.87h7M477.50 426.37v7M475.00 422.00h7M478.50 418.50v7M475.00 423.42h7M478.50 419.92v7M475.00 428.12h7M478.50 424.62v7M476.00 422.10h7M479.50 418.60v7M476.00 428.06h7M479.50 424.56v7M477.00 420.75h7M480.50 417.25v7M477.00 425.77h7M480.50 422.27v7M478.00 427.88h7M481.50 424.38v7M478.00 422.99h7M481.50 419.49v7M478.00 426.06h7M481.50 422.56v7M479.00 428.06h7M482.50 424.56v7M479.00 427.21h7M482.50 423.71v7M480.00 428.88h7M483.50 425.38v7M480.00 426.37h7M483.50 422.87v7M481.00 425.40h7M484.50 421.90v7M481.00 424.15h7M484.50 420.65v7M481.00 426.16h7M484.50 422.66v7M482.00 426.50h7M485.50 423.00v7M482.00 427.78h7M485.50 424.28v7M483.00 424.77h7M486.50 421.27v7M483.00 429.46h7M486.50 425.96v7M483.00 428.50h7M486.50 425.00v7M484.00 426.43h7M487.50 422.93v7M484.00 426.71h7M487.50 423.21v7M485.00 428.19h7M488.50 424.69v7M485.00 428.03h7M488.50 424.53v7M486.00 424.31h7M489.50 420.81v7M486.00 428.40h7M489.50 424.90v7M486.00 429.10h7M489.50 425.60v7M487.00 425.85h7M490.50 422.35v7M487.00 427.71h7M490.50 424.21v7M488.00 426.98h7M491.50 423.48v7M488.00 428.21h7M491.50 424.71v7M488.00 429.22h7M491.50 425.72v7M489.00 429.50h7M492.50 426.00v7M489.00 428.07h7M492.50 424.57v7M490.00 428.86h7M493.50 425.36v7M490.00 427.94h7M493.50 424.44v7M491.00 429.88h7M494.50 426.38v7M491.00 428.99h7M494.50 425.49v7M491.00 428.62h7M494.50 425.12v7M492.00 428.94h7M495.50 425.44v7M492.00 430.28h7M495.50 426.78v7M493.00 429.99h7M496.50 426.49v7M493.00 429.46h7M496.50 425.96v7M494.00 426.35h7M497.50 422.85v7M494.00 430.07h7M497.50 426.57v7M494.00 427.36h7M497.50 423.86v7M495.00 427.91h7M498.50 424.41v7M495.00 428.52h7M498.50 425.02v7M496.00 429.79h7M499.50 426.29v7M496.00 428.97h7M499.50 425.47v7M496.00 430.37h7M499.50 426.87v7M497.00 429.12h7M500.50 425.62v7M497.00 430.32h7M500.50 426.82v7M498.00 428.46h7M501.50 424.96v7M498.00 428.75h7M501.50 425.25v7M499.00 428.67h7M502.50 425.17v7M499.00 430.28h7M502.50 426.78v7M499.00 425.37h7M502.50 421.87v7M500.00 429.09h7M503.50 425.59v7M500.00 430.06h7M503.50 426.56v7M501.00 426.32h7M504.50 422.82v7M501.00 429.90h7M504.50 426.40v7M501.00 428.55h7M504.50 425.05v7M502.00 430.48h7M505.50 426.98v7M502.00 429.73h7M505.50 426.23v7M503.00 430.35h7M506.50 426.85v7M503.00 429.11h7M506.50 425.61v7M504.00 429.90h7M507.50 426.40v7M504.00 426.74h7M507.50 423.24v7M504.00 430.47h7M507.50 426.97v7M505.00 429.15h7M508.50 425.65v7M505.00 429.87h7M508.50 426.37v7M506.00 429.84h7M509.50 426.34v7M506.00 428.46h7M509.50 424.96v7M507.00 429.01h7M510.50 425.51v7M507.00 429.79h7M510.50 426.29v7M507.00 426.16h7M510.50 422.66v7M508.00 429.30h7M511.50 425.80v7M508.00 427.23h7M511.50 423.73v7M509.00 428.31h7M512.50 424.81v7M509.00 429.46h7M512.50 425.96v7M509.00 429.46h7M512.50 425.96v7M510.00 428.24h7M513.50 424.74v7M510.00 428.37h7M513.50 424.87v7M511.00 428.49h7M514.50 424.99v7M511.00 430.37h7M514.50 426.87v7M512.00 423.83h7M515.50 420.33v7M512.00 429.30h7M515.50 425.80v7M512.00 429.41h7M515.50 425.91v7M513.00 429.97h7M516.50 426.47v7M513.00 429.14h7M516.50 425.64v7M514.00 430.47h7M517.50 426.97v7M514.00 424.38h7M517.50 420.88v7M514.00 426.95h7M517.50 423.45v7M515.00 428.42h7M518.50 424.92v7M515.00 428.51h7M518.50 425.01v7M516.00 429.60h7M519.50 426.10v7M516.00 429.58h7M519.50 426.08v7M517.00 428.34h7M520.50 424.84v7M517.00 429.62h7M520.50 426.12v7M517.00 429.28h7M520.50 425.78v7M518.00 426.09h7M521.50 422.59v7M518.00 428.87h7M521.50 425.37v7M519.00 430.35h7M522.50 426.85v7M519.00 425.30h7M522.50 421.80v7M520.00 429.21h7M523.50 425.71v7M520.00 429.82h7M523.50 426.32v7M520.00 430.47h7M523.50 426.97v7M521.00 429.33h7M524.50 425.83v7M521.00 429.64h7M524.50 426.14v7M522.00 430.36h7M525.50 426.86v7M522.00 427.01h7M525.50 423.51v7M522.00 428.86h7M525.50 425.36v7M523.00 428.75h7M526.50 425.25v7M523.00 429.06h7M526.50 425.56v7M524.00 429.21h7M527.50 425.71v7M524.00 429.64h7M527.50 426.14v7M525.00 429.13h7M528.50 425.63v7M525.00 428.99h7M528.50 425.49v7M525.00 430.41h7M528.50 426.91v7M526.00 427.98h7M529.50 424.48v7M526.00 429.17h7M529.50 425.67v7M527.00 428.22h7M530.50 424.72v7M527.00 428.63h7M530.50 425.13v7M527.00 429.97h7M530.50 426.47v7M528.00 427.46h7M531.50 423.96v7M528.00 430.40h7M531.50 426.90v7M529.00 428.70h7M532.50 425.20v7M529.00 430.44h7M532.50 426.94v7M530.00 424.51h7M533.50 421.01v7M530.00 429.46h7M533.50 425.96v7M530.00 428.82h7M533.50 425.32v7M531.00 428.49h7M534.50 424.99v7M531.00 427.25h7M534.50 423.75v7M532.00 428.69h7M535.50 425.19v7M532.00 429.20h7M535.50 425.70v7M533.00 428.75h7M536.50 425.25v7M533.00 428.27h7M536.50 424.77v7M533.00 428.59h7M536.50 425.09v7M534.00 428.99h7M537.50 425.49v7M534.00 428.27h7M537.50 424.77v7M535.00 429.31h7M538.50 425.81v7M535.00 428.44h7M538.50 424.94v7M535.00 429.38h7M538.50 425.88v7M536.00 429.23h7M539.50 425.73v7M536.00 429.54h7M539.50 426.04v7M537.00 429.04h7M540.50 425.54v7M537.00 429.49h7M540.50 425.99v7M538.00 428.49h7M541.50 424.99v7M538.00 429.26h7M541.50 425.76v7M538.00 429.52h7M541.50 426.02v7M539.00 429.01h7M542.50 425.51v7M539.00 429.93h7M542.50 426.43v7M540.00 427.76h7M543.50 424.26v7M540.00 426.42h7M543.50 422.92v7M540.00 426.38h7M543.50 422.88v7M541.00 428.37h7M544.50 424.87v7M541.00 430.49h7M544.50 426.99v7M542.00 429.16h7M545.50 425.66v7M542.00 426.59h7M545.50 423.09v7M543.00 428.20h7M546.50 424.70v7M543.00 429.12h7M546.50 425.62v7M543.00 429.36h7M546.50 425.86v7M544.00 428.97h7M547.50 425.47v7M544.00 428.30h7M547.50 424.80v7M545.00 429.10h7M548.50 425.60v7M545.00 430.41h7M548.50 426.91v7" stroke="#9400d3" stroke-width="1" fill="none"/>
<path d="M252.00 135.50h7M255.50 132.00v7M331.00 194.50h7M334.50 191.00v7M430.00 109.50h7M433.50 106.00v7M454.00 194.50h7M457.50 191.00v7M326.00 223.50h7M329.50 220.00v7M308.00 243.50h7M311.50 240.00v7M327.00 253.50h7M330.50 250.00v7M247.00 261.50h7M250.50 258.00v7M308.00 261.50h7M311.50 258.00v7M327.00 267.50h7M330.50 264.00v7M359.00 269.50h7M362.50 266.00v7M248.00 288.50h7M251.50 285.00v7M354.00 290.50h7M357.50 287.00v7M311.00 300.50h7M314.50 297.00v7M480.00 241.50h7M483.50 238.00v7M535.00 239.50h7M538.50 236.00v7M538.00 314.50h7M541.50 311.00v7M112.00 355.50h7M115.50 352.00v7M154.00 385.50h7M157.50 382.00v7M119.00 395.50h7M122.50 392.00v7M124.00 397.50h7M127.50 394.00v7M128.00 399.50h7M131.50 396.00v7M132.00 396.50h7M135.50 393.00v7M137.00 397.50h7M140.50 394.00v7M142.00 397.50h7M145.50 394.00v7M145.00 396.50h7M148.50 393.00v7M150.00 396.50h7M153.50 393.00v7M158.00 396.50h7M161.50 393.00v7M163.00 399.50h7M166.50 396.00v7M167.00 397.50h7M170.50 394.00v7M171.00 397.50h7M174.50 394.00v7M180.00 398.50h7M183.50 395.00v7M184.00 395.50h7M187.50 392.00v7M189.00 396.50h7M192.50 393.00v7M193.00 392.50h7M196.50 389.00v7M198.00 398.50h7M201.50 395.00v7M202.00 396.50h7M205.50 393.00v7M207.00 396.50h7M210.50 393.00v7M211.00 395.50h7M214.50 392.00v7M216.00 397.50h7M219.50 394.00v7M221.00 395.50h7M224.50 392.00v7M228.00 399.50h7M231.50 396.00v7M232.00 398.50h7M235.50 395.00v7M238.00 396.50h7M241.50 393.00v7M243.00 396.50h7M246.50 393.00v7M225.00 347.50h7M228.50 344.00v7M226.00 353.50h7M229.50 350.00v7M227.00 354.50h7M230.50 351.00v7M224.00 360.50h7M227.50 357.00v7M226.00 368.50h7M229.50 365.00v7M225.00 370.50h7M228.50 367.00v7M230.00 377.50h7M233.50 374.00v7M230.00 383.50h7M233.50 380.00v7M231.00 385.50h7M234.50 382.00v7M228.00 387.50h7M231.50 384.00v7M249.00 351.50h7M252.50 348.00v7M251.00 354.50h7M254.50 351.00v7M254.00 363.50h7M257.50 360.00v7M249.00 368.50h7M252.50 365.00v7M254.00 374.50h7M257.50 371.00v7M252.00 387.50h7M255.50 384.00v7M251.00 391.50h7M254.50 388.00v7M254.00 395.50h7M257.50 392.00v7M259.00 400.50h7M262.50 397.00v7M264.00 384.50h7M267.50 381.00v7M271.00 395.50h7M274.50 392.00v7M277.00 363.50h7M280.50 360.00v7M277.00 369.50h7M280.50 366.00v7M278.00 370.50h7M281.50 367.00v7M275.00 383.50h7M278.50 380.00v7M276.00 389.50h7M279.50 386.00v7M275.00 400.50h7M278.50 397.00v7M278.00 401.50h7M281.50 398.00v7M283.00 398.50h7M286.50 395.00v7M290.00 396.50h7M293.50 393.00v7M294.00 394.50h7M297.50 391.00v7M296.00 398.50h7M299.50 395.00v7M301.00 393.50h7M304.50 390.00v7M310.00 345.50h7M313.50 342.00v7M309.00 358.50h7M312.50 355.00v7M308.00 370.50h7M311.50 367.00v7M310.00 374.50h7M313.50 371.00v7M311.00 382.50h7M314.50 379.00v7M311.00 384.50h7M314.50 381.00v7M320.00 396.50h7M323.50 393.00v7M324.00 347.50h7M327.50 344.00v7M325.00 356.50h7M328.50 353.00v7M324.00 358.50h7M327.50 355.00v7M330.00 378.50h7M333.50 375.00v7M329.00 383.50h7M332.50 380.00v7M329.00 390.50h7M332.50 387.00v7M255.00 343.50h7M258.50 340.00v7M352.00 347.50h7M355.50 344.00v7M353.00 356.50h7M356.50 353.00v7M358.00 356.50h7M361.50 353.00v7M358.00 360.50h7M361.50 357.00v7M332.00 363.50h7M335.50 360.00v7M334.00 366.50h7M337.50 363.00v7M352.00 367.50h7M355.50 364.00v7M353.00 368.50h7M356.50 365.00v7M333.00 374.50h7M336.50 371.00v7M334.00 382.50h7M337.50 379.00v7M351.00 382.50h7M354.50 379.00v7M355.00 384.50h7M358.50 381.00v7M359.00 389.50h7M362.50 386.00v7M371.00 388.50h7M374.50 385.00v7M336.00 396.50h7M339.50 393.00v7M338.00 398.50h7M341.50 395.00v7M344.00 395.50h7M347.50 392.00v7M350.00 395.50h7M353.50 392.00v7M357.00 399.50h7M360.50 396.00v7M365.00 399.50h7M368.50 396.00v7M381.00 371.50h7M384.50 368.00v7M383.00 373.50h7M386.50 370.00v7M384.00 370.50h7M387.50 367.00v7M390.00 369.50h7M393.50 366.00v7M386.00 389.50h7M389.50 386.00v7M388.00 387.50h7M391.50 384.00v7M389.00 385.50h7M392.50 382.00v7M391.00 386.50h7M394.50 383.00v7M388.00 390.50h7M391.50 387.00v7M401.00 384.50h7M404.50 381.00v7M402.00 364.50h7M405.50 361.00v7M401.00 369.50h7M404.50 366.00v7M404.00 371.50h7M407.50 368.00v7M397.00 397.50h7M400.50 394.00v7M400.00 397.50h7M403.50 394.00v7M405.00 402.50h7M408.50 399.00v7M427.00 347.50h7M430.50 344.00v7M424.00 362.50h7M427.50 359.00v7M405.00 369.50h7M408.50 366.00v7M416.00 369.50h7M419.50 366.00v7M424.00 376.50h7M427.50 373.00v7M415.00 380.50h7M418.50 377.00v7M428.00 382.50h7M431.50 379.00v7M417.00 385.50h7M420.50 382.00v7M410.00 390.50h7M413.50 387.00v7M427.00 393.50h7M430.50 390.00v7M417.00 397.50h7M420.50 394.00v7M421.00 399.50h7M424.50 396.00v7M426.00 400.50h7M429.50 397.00v7M428.00 402.50h7M431.50 399.00v7M431.00 401.50h7M434.50 398.00v7M436.00 397.50h7M439.50 394.00v7M442.00 393.50h7M445.50 390.00v7M448.00 389.50h7M451.50 386.00v7M452.00 367.50h7M455.50 364.00v7M454.00 369.50h7M457.50 366.00v7M455.00 375.50h7M458.50 372.00v7M451.00 379.50h7M454.50 376.00v7M455.00 394.50h7M458.50 391.00v7M458.00 395.50h7M461.50 392.00v7M460.00 393.50h7M463.50 390.00v7M459.00 396.50h7M462.50 393.00v7M461.00 399.50h7M464.50 396.00v7M454.00 403.50h7M457.50 400.00v7M467.00 396.50h7M470.50 393.00v7M473.00 398.50h7M476.50 395.00v7M474.00 375.50h7M477.50 372.00v7M474.00 378.50h7M477.50 375.00v7M479.00 382.50h7M482.50 379.00v7M481.00 381.50h7M484.50 378.00v7M482.00 353.50h7M485.50 350.00v7M483.00 372.50h7M486.50 369.00v7M487.00 378.50h7M490.50 375.00v7M486.00 388.50h7M489.50 385.00v7M484.00 390.50h7M487.50 387.00v7M487.00 394.50h7M490.50 391.00v7M482.00 396.50h7M485.50 393.00v7M483.00 400.50h7M486.50 397.00v7M492.00 396.50h7M495.50 393.00v7M498.00 398.50h7M501.50 395.00v7M503.00 395.50h7M506.50 392.00v7M509.00 401.50h7M512.50 398.00v7M511.00 398.50h7M514.50 395.00v7M513.00 399.50h7M516.50 396.00v7M519.00 403.50h7M522.50 400.00v7M522.00 397.50h7M525.50 394.00v7M528.00 395.50h7M531.50 392.00v7M536.00 395.50h7M539.50 392.00v7M541.00 395.50h7M544.50 392.00v7M512.00 388.50h7M515.50 385.00v7M514.00 391.50h7M517.50 388.00v7M514.00 379.50h7M517.50 376.00v7M517.00 366.50h7M520.50 363.00v7M519.00 367.50h7M522.50 364.00v7M532.00 351.50h7M535.50 348.00v7M532.00 361.50h7M535.50 358.00v7M533.00 382.50h7M536.50 379.00v7M274.00 327.50h7M277.50 324.00v7M278.00 344.50h7M281.50 341.00v7M333.00 320.50h7M336.50 317.00v7M326.00 326.50h7M329.50 323.00v7M335.00 329.50h7M338.50 326.00v7M331.00 341.50h7M334.50 338.00v7M358.00 339.50h7M361.50 336.00v7M405.00 321.50h7M408.50 318.00v7M415.00 329.50h7M418.50 326.00v7M382.00 335.50h7M385.50 332.00v7M384.00 341.50h7M387.50 338.00v7M456.00 326.50h7M459.50 323.00v7M511.00 337.50h7M514.50 334.00v7M516.00 340.50h7M519.50 337.00v7M534.00 332.50h7M537.50 329.00v7M534.00 343.50h7M537.50 340.00v7M328.00 408.50h7M331.50 405.00v7M329.00 409.50h7M332.50 406.00v7M328.00 413.50h7M331.50 410.00v7M334.00 411.50h7M337.50 408.00v7M325.00 418.50h7M328.50 415.00v7M327.00 419.50h7M330.50 416.00v7M335.00 417.50h7M338.50 414.00v7M332.00 421.50h7M335.50 418.00v7M336.00 423.50h7M339.50 420.00v7M332.00 429.50h7M335.50 426.00v7M333.00 425.50h7M336.50 422.00v7M122.00 416.50h7M125.50 413.00v7M106.00 421.50h7M109.50 418.00v7M106.00 424.50h7M109.50 421.00v7M106.00 428.50h7M109.50 425.00v7M116.00 424.50h7M119.50 421.00v7M226.00 408.50h7M229.50 405.00v7M229.00 413.50h7M232.50 410.00v7M231.00 413.50h7M234.50 410.00v7M219.00 418.50h7M222.50 415.00v7M223.00 419.50h7M226.50 416.00v7M231.00 419.50h7M234.50 416.00v7M235.00 420.50h7M238.50 417.00v7M247.00 412.50h7M250.50 409.00v7M250.00 412.50h7M253.50 409.00v7M252.00 418.50h7M255.50 415.00v7M253.00 422.50h7M256.50 419.00v7M248.00 424.50h7M251.50 421.00v7M228.00 424.50h7M231.50 421.00v7M309.00 405.50h7M312.50 402.00v7M301.00 415.50h7M304.50 412.00v7M274.00 419.50h7M277.50 416.00v7M262.00 420.50h7M265.50 417.00v7M277.00 421.50h7M280.50 418.00v7M253.00 421.50h7M256.50 418.00v7M298.00 421.50h7M301.50 418.00v7M306.00 419.50h7M309.50 416.00v7M313.00 423.50h7M316.50 420.00v7M367.00 406.50h7M370.50 403.00v7M381.00 404.50h7M384.50 401.00v7M356.00 412.50h7M359.50 409.00v7M355.00 414.50h7M358.50 411.00v7M357.00 418.50h7M360.50 415.00v7M369.00 421.50h7M372.50 418.00v7M376.00 422.50h7M379.50 419.00v7M381.00 418.50h7M384.50 415.00v7M389.00 413.50h7M392.50 410.00v7M394.00 411.50h7M397.50 408.00v7M388.00 421.50h7M391.50 418.00v7M394.00 422.50h7M397.50 419.00v7M403.00 421.50h7M406.50 418.00v7M355.00 424.50h7M358.50 421.00v7M425.00 406.50h7M428.50 403.00v7M432.00 411.50h7M435.50 408.00v7M430.00 414.50h7M433.50 411.00v7M415.00 415.50h7M418.50 412.00v7M453.00 407.50h7M456.50 404.00v7M456.00 409.50h7M459.50 406.00v7M477.00 406.50h7M480.50 403.00v7M476.00 414.50h7M479.50 411.00v7M425.00 421.50h7M428.50 418.00v7M427.00 422.50h7M430.50 419.00v7M431.00 422.50h7M434.50 419.00v7M407.00 421.50h7M410.50 418.00v7M442.00 422.50h7M445.50 419.00v7M445.00 422.50h7M448.50 419.00v7M453.00 420.50h7M456.50 417.00v7M459.00 421.50h7M462.50 418.00v7M465.00 421.50h7M468.50 418.00v7M468.00 420.50h7M471.50 417.00v7M474.00 421.50h7M477.50 418.00v7M479.00 419.50h7M482.50 416.00v7M488.00 405.50h7M491.50 402.00v7M482.00 414.50h7M485.50 411.00v7M485.00 414.50h7M488.50 411.00v7M511.00 409.50h7M514.50 406.00v7M518.00 407.50h7M521.50 404.00v7M516.00 414.50h7M519.50 411.00v7M516.00 417.50h7M519.50 414.00v7M514.00 420.50h7M517.50 417.00v7M517.00 420.50h7M520.50 417.00v7M501.00 419.50h7M504.50 416.00v7M495.00 420.50h7M498.50 417.00v7M506.00 421.50h7M509.50 418.00v7M509.00 422.50h7M512.50 419.00v7M536.00 412.50h7M539.50 409.00v7M544.00 415.50h7M547.50 412.00v7M531.00 420.50h7M534.50 417.00v7M538.00 419.50h7M541.50 416.00v7M540.00 420.50h7M543.50 417.00v7M535.00 421.50h7M538.50 418.00v7M571.00 57.50h7M574.50 54.00v7" stroke="#9400d3" stroke-width="1" fill="none"/>
<path d="M109.5 45.5V431.5H612.5V45.5Z" stroke="#000" stroke-width="1" fill="none"/>
</svg></body></html>
